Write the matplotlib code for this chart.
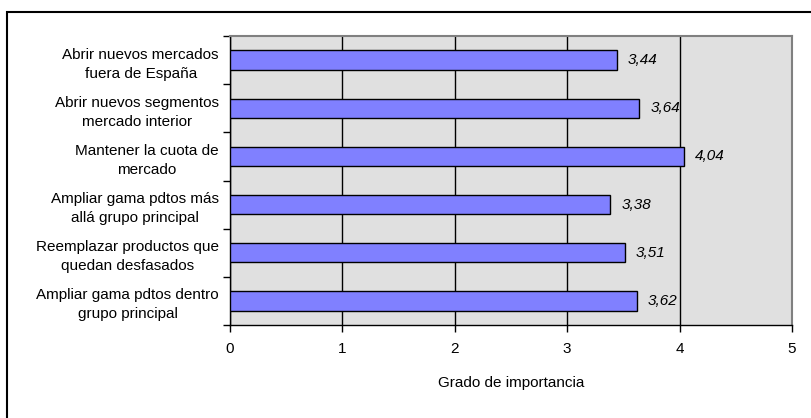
import matplotlib
matplotlib.use("Agg")
import matplotlib.pyplot as plt
from matplotlib.patches import Rectangle

plt.rcParams['font.family'] = ['Liberation Sans', 'DejaVu Sans']

# data, top to bottom as in the chart
labels = [
    "Abrir nuevos mercados\nfuera de España",
    "Abrir nuevos segmentos\nmercado interior",
    "Mantener la cuota de\nmercado",
    "Ampliar gama pdtos más\nallá grupo principal",
    "Reemplazar productos que\nquedan desfasados",
    "Ampliar gama pdtos dentro\ngrupo principal",
]
values = [3.44, 3.64, 4.04, 3.38, 3.51, 3.62]
xticks = [0, 1, 2, 3, 4, 5]

FS = 11
W, H = 812, 418
fig = plt.figure(figsize=(W / 100, H / 100), dpi=100)
fig.patch.set_facecolor('white')

# outer frame, runs off the right and bottom edges
fig.patches.append(Rectangle((7 / W, -0.1), 1.2, (H - 12) / H + 0.1,
                             transform=fig.transFigure, fill=False,
                             edgecolor='black', linewidth=1.5))

left, right, top, bottom = 230, 792, 36, 325
ax = fig.add_axes([left / W, 1 - bottom / H, (right - left) / W, (bottom - top) / H])
ax.set_facecolor('#E0E0E0')

n = len(values)
ypos = list(range(n))
ax.barh(ypos, values, height=0.4, color='#8080FF', edgecolor='black', linewidth=1, zorder=3)
ax.set_ylim(n - 0.5, -0.5)
ax.set_xlim(0, 5)

for y, v in zip(ypos, values):
    ax.text(v + 0.1, y, ("%.2f" % v).replace('.', ','), va='center', ha='left',
            fontsize=FS, style='italic', zorder=4)

ax.set_xticks(xticks)
ax.set_xticklabels([str(t) for t in xticks], fontsize=FS)
ax.xaxis.grid(True, color='black', linewidth=1, zorder=1)
ax.tick_params(axis='x', direction='out', length=5, width=1, pad=7)

# category ticks sit on band boundaries
ax.set_yticks([i - 0.5 for i in range(n + 1)])
ax.set_yticklabels([])
ax.set_yticks(ypos, minor=True)
ax.set_yticklabels(labels, minor=True, fontsize=FS, ha='right',
                   multialignment='center', linespacing=1.45)
ax.tick_params(axis='y', which='minor', length=0, pad=8)
ax.tick_params(axis='y', which='major', direction='out', length=5, width=1)

for s in ['top', 'right']:
    ax.spines[s].set_color('#808080')
    ax.spines[s].set_linewidth(1.5)
for s in ['left', 'bottom']:
    ax.spines[s].set_color('black')
    ax.spines[s].set_linewidth(1)

ax.set_xlabel("Grado de importancia", fontsize=FS, labelpad=15)

fig.savefig("out.png", dpi=100)
